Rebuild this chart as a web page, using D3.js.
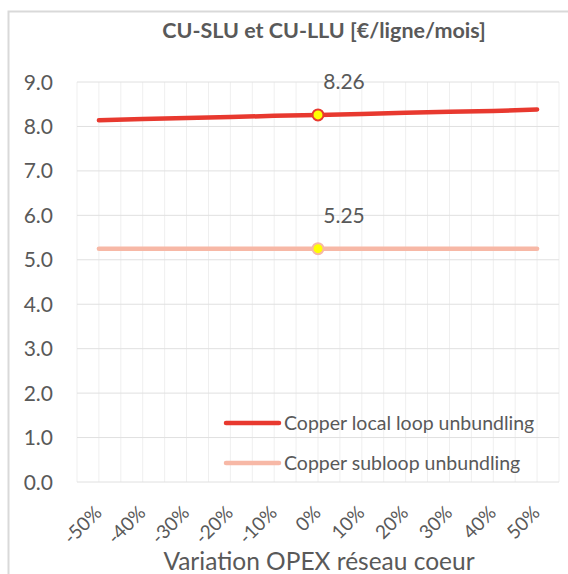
<!DOCTYPE html>
<html>
<head>
<meta charset="utf-8">
<script src="https://cdn.jsdelivr.net/npm/d3@7"></script>
<style>
  body { margin: 0; background: #fff; }
  text { font-family: Lato, "Open Sans", sans-serif; fill: #595959; }
</style>
</head>
<body>
<svg width="568" height="574"></svg>
<script>
// data
const categories = ["-50%", "-40%", "-30%", "-20%", "-10%", "0%", "10%", "20%", "30%", "40%", "50%"];
const lluValues = [8.14, 8.17, 8.19, 8.21, 8.24, 8.26, 8.28, 8.31, 8.33, 8.35, 8.38];
const sluValues = [5.25, 5.25, 5.25, 5.25, 5.25, 5.25, 5.25, 5.25, 5.25, 5.25, 5.25];
const yTicks = [0, 1, 2, 3, 4, 5, 6, 7, 8, 9];
const seriesNames = ["Copper local loop unbundling", "Copper subloop unbundling"];
const labelIndex = 5;

const svg = d3.select("svg");

// chart frame
svg.append("rect")
  .attr("x", 8.5).attr("y", 11.5)
  .attr("width", 600).attr("height", 600)
  .attr("fill", "none").attr("stroke", "#d9d9d9").attr("stroke-width", 2);

const x = d3.scaleBand().domain(categories).range([77, 559]).padding(0);
const y = d3.scaleLinear().domain([0, 9]).range([482, 82]);

// vertical grid (every half category)
const half = x.bandwidth() / 2;
const vlines = d3.range(0, categories.length * 2 + 1).map(k => 77 + k * half);
svg.append("g").selectAll("line")
  .data(vlines)
  .join("line")
    .attr("x1", d => d).attr("x2", d => d)
    .attr("y1", y(9)).attr("y2", y(0))
    .attr("stroke", "#efefef").attr("stroke-width", 1);

// horizontal grid
svg.append("g").selectAll("line")
  .data(yTicks)
  .join("line")
    .attr("x1", 77).attr("x2", 559)
    .attr("y1", d => y(d)).attr("y2", d => y(d))
    .attr("stroke", "#e0e0e0").attr("stroke-width", 1);

// y labels
svg.append("g").selectAll("text")
  .data(yTicks)
  .join("text")
    .attr("x", 53).attr("y", d => y(d) + 7.5)
    .attr("text-anchor", "end")
    .attr("font-size", 21)
    .text(d => d.toFixed(1));

// x labels
svg.append("g").selectAll("text")
  .data(categories)
  .join("text")
    .attr("text-anchor", "end")
    .attr("font-size", 19)
    .attr("transform", d => `translate(${x(d) + half + 4},${514}) rotate(-45)`)
    .text(d => d);

// titles
svg.append("text")
  .attr("x", 324).attr("y", 38)
  .attr("text-anchor", "middle")
  .attr("font-size", 21.5).attr("font-weight", "bold")
  .text("CU-SLU et CU-LLU [€/ligne/mois]");

svg.append("text")
  .attr("x", 319).attr("y", 570)
  .attr("text-anchor", "middle")
  .attr("font-size", 24.5)
  .text("Variation OPEX réseau coeur");

// series
const series = [
  {name: seriesNames[0], values: lluValues, color: "#e8392f"},
  {name: seriesNames[1], values: sluValues, color: "#f7b8a6"}
];

const line = d3.line()
  .x((d, i) => x(categories[i]) + half)
  .y(d => y(d));

svg.append("g").selectAll("path")
  .data(series.slice().reverse())
  .join("path")
    .attr("d", d => line(d.values))
    .attr("fill", "none")
    .attr("stroke", d => d.color)
    .attr("stroke-width", 4.5)
    .attr("stroke-linecap", "round");

// highlighted point + label
svg.append("g").selectAll("circle")
  .data(series)
  .join("circle")
    .attr("cx", x(categories[labelIndex]) + half)
    .attr("cy", d => y(d.values[labelIndex]))
    .attr("r", 5.5)
    .attr("fill", "#ffff00")
    .attr("stroke", d => d.color)
    .attr("stroke-width", 2);

svg.append("g").selectAll("text")
  .data(series)
  .join("text")
    .attr("x", x(categories[labelIndex]) + half + 26)
    .attr("y", d => y(d.values[labelIndex]) - 26)
    .attr("text-anchor", "middle")
    .attr("font-size", 21)
    .text(d => d.values[labelIndex].toFixed(2));

// legend
const legend = svg.append("g").selectAll("g")
  .data(series)
  .join("g")
    .attr("transform", (d, i) => `translate(226,${423 + i * 40})`);

legend.append("line")
  .attr("x1", 0).attr("x2", 53)
  .attr("stroke", d => d.color)
  .attr("stroke-width", 4.5)
  .attr("stroke-linecap", "round");

legend.append("text")
  .attr("x", 58).attr("y", 7)
  .attr("font-size", 19.5)
  .text(d => d.name);
</script>
</body>
</html>
